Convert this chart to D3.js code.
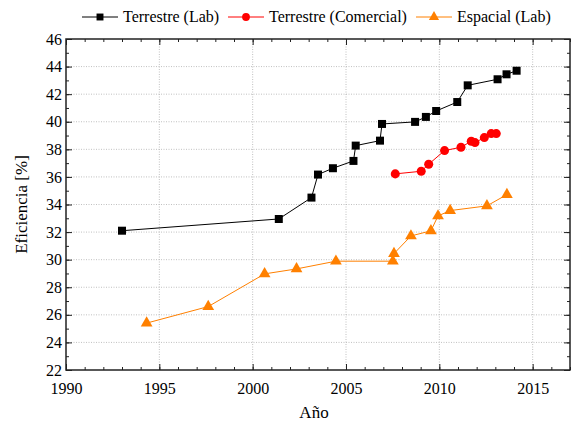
<!DOCTYPE html>
<html>
<head>
<meta charset="utf-8">
<script src="https://cdn.jsdelivr.net/npm/d3@7"></script>
<style>
  body { margin: 0; background: #fff; }
</style>
</head>
<body>
<div id="chart"></div>
<script>
// datos
var labYears = [1993.0, 2001.4, 2003.15, 2003.5, 2004.3, 2005.4, 2005.52, 2006.82, 2006.93, 2008.7, 2009.28, 2009.83, 2010.96, 2011.52, 2013.12, 2013.6, 2014.14];
var labEff = [32.1, 32.95, 34.5, 36.17, 36.63, 37.16, 38.27, 38.63, 39.84, 39.99, 40.35, 40.78, 41.43, 42.64, 43.08, 43.44, 43.7];

var comYears = [2007.64, 2009.03, 2009.43, 2010.28, 2011.16, 2011.71, 2011.91, 2012.41, 2012.78, 2013.05];
var comEff = [36.22, 36.41, 36.92, 37.91, 38.15, 38.59, 38.49, 38.85, 39.14, 39.14];

var espYears = [1994.32, 1997.62, 2000.64, 2002.35, 2004.46, 2007.51, 2007.57, 2008.48, 2009.55, 2009.93, 2010.58, 2012.55, 2013.62];
var espEff = [25.4, 26.6, 28.97, 29.33, 29.89, 29.89, 30.44, 31.72, 32.09, 33.17, 33.56, 33.9, 34.72];

var seriesNames = ["Terrestre (Lab)", "Terrestre (Comercial)", "Espacial (Lab)"];
var xTicks = [1990, 1995, 2000, 2005, 2010, 2015];
var yTicks = [22, 24, 26, 28, 30, 32, 34, 36, 38, 40, 42, 44, 46];

var width = 573, height = 421;
var margin = {left: 66, right: 3, top: 39, bottom: 51};
var serif = "'Liberation Serif'";

var svg = d3.select("#chart").append("svg")
	.attr("width", width)
	.attr("height", height);

var x = d3.scaleLinear().domain([1990, 2017]).range([margin.left, width - margin.right]);
var y = d3.scaleLinear().domain([22, 46]).range([height - margin.bottom, margin.top]);

var x0 = x.range()[0], x1 = x.range()[1], y0 = y.range()[0], y1 = y.range()[1];

// grille pointillée
svg.append("g").selectAll("line").data(xTicks.slice(1)).enter().append("line")
	.attr("x1", d => x(d)).attr("x2", d => x(d))
	.attr("y1", y1).attr("y2", y0)
	.attr("stroke", "#b0b0b0").attr("stroke-width", 0.8).attr("stroke-dasharray", "1,1.5");
svg.append("g").selectAll("line").data(yTicks.slice(1, -1)).enter().append("line")
	.attr("y1", d => y(d)).attr("y2", d => y(d))
	.attr("x1", x0).attr("x2", x1)
	.attr("stroke", "#b0b0b0").attr("stroke-width", 0.8).attr("stroke-dasharray", "1,1.5");

// axes (ticks vers l'intérieur, sur les 4 côtés)
var xMinor = d3.range(1990, 2018, 1);
var yMinor = d3.range(22, 47, 1);

function tickStyle(g) {
	g.select(".domain").remove();
	g.selectAll(".tick line").attr("stroke", "#222").attr("stroke-width", 1);
	g.selectAll("text").style("font-family", serif).attr("fill", "#000").attr("font-size", "16px");
}

svg.append("g").attr("transform", "translate(0," + y0 + ")")
	.call(d3.axisBottom(x).tickValues(xMinor).tickSize(-3).tickFormat(""))
	.call(tickStyle);
svg.append("g").attr("transform", "translate(0," + y0 + ")")
	.call(d3.axisBottom(x).tickValues(xTicks).tickSize(-6).tickPadding(13).tickFormat(d3.format("d")))
	.call(tickStyle);
svg.append("g").attr("transform", "translate(0," + y1 + ")")
	.call(d3.axisTop(x).tickValues(xMinor).tickSize(-3).tickFormat(""))
	.call(tickStyle);
svg.append("g").attr("transform", "translate(0," + y1 + ")")
	.call(d3.axisTop(x).tickValues(xTicks).tickSize(-6).tickFormat(""))
	.call(tickStyle);

svg.append("g").attr("transform", "translate(" + x0 + ",0)")
	.call(d3.axisLeft(y).tickValues(yMinor).tickSize(-3).tickFormat(""))
	.call(tickStyle);
svg.append("g").attr("transform", "translate(" + x0 + ",0)")
	.call(d3.axisLeft(y).tickValues(yTicks).tickSize(-6).tickPadding(3).tickFormat(d3.format("d")))
	.call(tickStyle)
	.selectAll("text").attr("dx", "-1");
svg.append("g").attr("transform", "translate(" + x1 + ",0)")
	.call(d3.axisRight(y).tickValues(yMinor).tickSize(-3).tickFormat(""))
	.call(tickStyle);
svg.append("g").attr("transform", "translate(" + x1 + ",0)")
	.call(d3.axisRight(y).tickValues(yTicks).tickSize(-6).tickFormat(""))
	.call(tickStyle);

// cadre
svg.append("rect")
	.attr("x", x0).attr("y", y1)
	.attr("width", x1 - x0).attr("height", y0 - y1)
	.attr("fill", "none").attr("stroke", "#222").attr("stroke-width", 1.5);

// titres des axes
svg.append("text").text("Año")
	.attr("x", (x0 + x1) / 2 - 4).attr("y", 418)
	.attr("text-anchor", "middle").attr("font-size", "17px")
	.style("font-family", serif);
svg.append("text").text("Eficiencia [%]")
	.attr("transform", "translate(27," + ((y0 + y1) / 2) + ")rotate(-90)")
	.attr("text-anchor", "middle").attr("font-size", "17px")
	.style("font-family", serif);

// séries
var series = [
	{name: seriesNames[0], xs: labYears, ys: labEff, color: "#000000", symbol: d3.symbolSquare, size: 64},
	{name: seriesNames[1], xs: comYears, ys: comEff, color: "#ff0000", symbol: d3.symbolCircle, size: 64},
	{name: seriesNames[2], xs: espYears, ys: espEff, color: "#ff8000", symbol: d3.symbolTriangle, size: 60}
];

var line = d3.line().x(d => x(d[0])).y(d => y(d[1]));

series.forEach(function(s) {
	var pts = s.xs.map((v, i) => [v, s.ys[i]]);
	svg.append("path")
		.datum(pts)
		.attr("d", line)
		.attr("fill", "none")
		.attr("stroke", s.color)
		.attr("stroke-width", 1);
	svg.append("g").selectAll("path").data(pts).enter().append("path")
		.attr("d", d3.symbol().type(s.symbol).size(s.size))
		.attr("transform", d => "translate(" + x(d[0]) + "," + y(d[1]) + ")")
		.attr("fill", s.color);
});

// légende
var legX = [100, 246, 434];
var leg = svg.append("g");
series.forEach(function(s, i) {
	leg.append("line")
		.attr("x1", legX[i] - 18).attr("x2", legX[i] + 18)
		.attr("y1", 17).attr("y2", 17)
		.attr("stroke", s.color).attr("stroke-width", 1);
	leg.append("path")
		.attr("d", d3.symbol().type(s.symbol).size(s.size * 0.75))
		.attr("transform", "translate(" + legX[i] + ",17)")
		.attr("fill", s.color);
	leg.append("text").text(s.name)
		.attr("x", legX[i] + 23).attr("y", 22)
		.attr("font-size", "16px")
		.style("font-family", serif);
});
</script>
</body>
</html>
